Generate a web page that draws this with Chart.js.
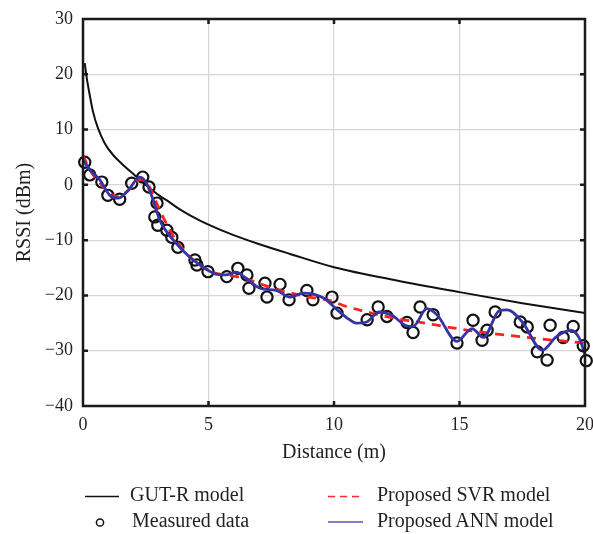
<!DOCTYPE html>
<html><head><meta charset="utf-8">
<script src="https://cdn.jsdelivr.net/npm/chart.js@4.4.1/dist/chart.umd.min.js"></script>
<style>
html,body{margin:0;padding:0;background:#fff;}
#wrap{position:relative;width:593px;height:534px;font-family:"Liberation Serif","Times New Roman",serif;color:#231f20;overflow:hidden;}
canvas{position:absolute;left:0;top:0;}
.lg{position:absolute;font-size:20px;line-height:20px;white-space:nowrap;}
svg.s{position:absolute;left:0;top:0;}
</style></head><body>
<div id="wrap">
<canvas id="c" width="593" height="534"></canvas>
<svg class="s" width="593" height="534">
  <line x1="85" y1="496.5" x2="119" y2="496.5" stroke="#111" stroke-width="1.5"/>
  <circle cx="100" cy="522.5" r="3.6" fill="none" stroke="#111" stroke-width="1.5"/>
  <line x1="328" y1="496.5" x2="363" y2="496.5" stroke="#ff2a2a" stroke-width="1.5" stroke-dasharray="7,5"/>
  <line x1="328" y1="522" x2="363" y2="522" stroke="#5a52b8" stroke-width="1.5"/>
</svg>
<div class="lg" style="left:130px;top:484px">GUT-R model</div>
<div class="lg" style="left:132px;top:510px">Measured data</div>
<div class="lg" style="left:377px;top:484px">Proposed SVR model</div>
<div class="lg" style="left:377px;top:510px">Proposed ANN model</div>
</div>
<script>
// ---- data ----
const xTickValues = [0, 5, 10, 15, 20];
const yTickValues = [-40, -30, -20, -10, 0, 10, 20, 30];

const gutX = [0.07, 0.13, 0.27, 0.4, 0.6, 0.87, 1.2, 1.6, 2.06, 2.53, 3.06, 3.4, 3.78, 4.3, 5.0, 6.0, 7.0, 8.25, 10, 12.5, 15, 17.5, 20];
const gutY = [22.0, 19.9, 16.2, 13.2, 10.2, 7.5, 5.4, 3.6, 1.75, -0.1, -2.0, -3.0, -4.2, -5.6, -7.2, -9.1, -10.7, -12.5, -14.9, -17.3, -19.4, -21.4, -23.2];

const measuredX = [0.07,0.27,0.75,0.99,1.46,1.94,2.38,2.63,2.86,2.95,2.98,3.34,3.54,3.78,4.46,4.54,4.98,5.73,6.17,6.53,6.61,7.25,7.33,7.85,8.21,8.92,9.16,9.92,10.12,11.32,11.76,12.11,12.91,13.15,13.43,13.95,14.90,15.54,15.90,16.10,16.42,17.42,17.70,18.10,18.49,18.61,19.13,19.53,19.93,20.05];
const measuredY = [4.1,1.8,0.5,-1.9,-2.6,0.3,1.4,-0.4,-5.8,-3.3,-7.3,-8.2,-9.5,-11.3,-13.6,-14.5,-15.7,-16.6,-15.1,-16.3,-18.7,-17.8,-20.3,-18.0,-20.8,-19.1,-20.8,-20.3,-23.2,-24.4,-22.1,-23.8,-24.9,-26.7,-22.1,-23.5,-28.6,-24.5,-28.1,-26.3,-23.0,-24.8,-25.7,-30.2,-31.7,-25.4,-27.6,-25.6,-29.1,-31.8];

const svrX = [0, 0.3, 0.7, 1.0, 1.4, 1.8, 2.3, 2.6, 3.0, 3.5, 4.0, 4.5, 5.0, 5.5, 6.0, 6.5, 7.0, 7.5, 8.0, 8.5, 9.0, 9.8, 10.5, 11.5, 12.5, 13.5, 14.5, 15.5, 16.5, 17.5, 18.5, 19.5, 20];
const svrY = [5.3, 2.5, 0.2, -1.3, -2.2, -1.0, 1.0, 0.0, -4.0, -8.5, -11.8, -14.0, -15.5, -16.2, -16.5, -17.0, -17.8, -18.6, -19.3, -19.8, -20.3, -20.9, -22.0, -23.2, -24.2, -24.9, -25.7, -26.4, -27.0, -27.5, -28.0, -28.4, -28.7];

const annX = [0, 0.3, 0.67, 1.07, 1.4, 1.8, 2.26, 2.5, 2.8, 3.06, 3.6, 4.26, 4.8, 5.2, 5.7, 6.1, 6.5, 7.05, 7.7, 8.25, 8.77, 9.6, 10.1, 10.5, 10.9, 11.3, 11.8, 12.3, 12.9, 13.15, 13.7, 14.1, 14.9, 15.5, 15.95, 16.6, 16.9, 17.5, 18.3, 18.85, 19.45, 19.8, 20];
const annY = [4.5, 2.6, 0.9, -1.9, -2.4, -1.0, 1.4, 0.5, -2.8, -6.4, -10.0, -13.1, -14.9, -16.0, -16.3, -15.8, -16.9, -18.7, -19.1, -20.3, -19.6, -20.5, -22.5, -24.0, -25.0, -24.8, -23.0, -23.6, -25.5, -25.6, -22.4, -23.5, -28.3, -26.0, -27.6, -22.7, -22.6, -24.8, -29.9, -27.5, -26.3, -28.0, -30.8];

const pts = (xs, ys) => xs.map((x, i) => ({x, y: ys[i]}));

const frame = {
  id: 'frame',
  afterDraw(chart) {
    const {ctx, chartArea: a, scales: {x, y}} = chart;
    ctx.save();
    ctx.strokeStyle = '#1a1a1a';
    ctx.lineWidth = 2.5;
    ctx.strokeRect(a.left, a.top, a.right - a.left, a.bottom - a.top);
    const L = 5;
    ctx.beginPath();
    x.ticks.forEach(t => {
      const p = x.getPixelForValue(t.value);
      if (p > a.left + 1 && p < a.right - 1) {
        ctx.moveTo(p, a.bottom); ctx.lineTo(p, a.bottom - L);
        ctx.moveTo(p, a.top); ctx.lineTo(p, a.top + L);
      }
    });
    y.ticks.forEach(t => {
      const p = y.getPixelForValue(t.value);
      if (p > a.top + 1 && p < a.bottom - 1) {
        ctx.moveTo(a.left, p); ctx.lineTo(a.left + L, p);
        ctx.moveTo(a.right, p); ctx.lineTo(a.right - L, p);
      }
    });
    ctx.stroke();
    ctx.restore();
  }
};

const fontFam = '"Liberation Serif","Times New Roman",serif';

new Chart(document.getElementById('c'), {
  type: 'scatter',
  data: {
    datasets: [
      {label: 'Proposed ANN model', data: pts(annX, annY), showLine: true, borderColor: '#3434a4', borderWidth: 2.8, pointRadius: 0, cubicInterpolationMode: 'monotone', order: 0},
      {label: 'Proposed SVR model', data: pts(svrX, svrY), showLine: true, borderColor: '#ff2020', borderWidth: 2.8, borderDash: [9, 7], pointRadius: 0, cubicInterpolationMode: 'monotone', order: 1},
      {label: 'Measured data', data: pts(measuredX, measuredY), showLine: false, borderColor: '#111', backgroundColor: 'rgba(0,0,0,0)', borderWidth: 2.2, pointRadius: 5.6, pointStyle: 'circle', clip: false, order: 2},
      {label: 'GUT-R model', data: pts(gutX, gutY), showLine: true, borderColor: '#111', borderWidth: 2, pointRadius: 0, cubicInterpolationMode: 'monotone', order: 3}
    ]
  },
  options: {
    responsive: false,
    animation: false,
    devicePixelRatio: 1,
    layout: {padding: {top: 19, right: 8, bottom: 64, left: 0}},
    plugins: {legend: {display: false}, tooltip: {enabled: false}},
    scales: {
      x: {
        type: 'linear', min: 0, max: 20,
        afterBuildTicks: s => { s.ticks = xTickValues.map(v => ({value: v})); },
        afterFit: s => { s.height = 64; s.paddingLeft = 0; s.paddingRight = 0; },
        grid: {color: '#d6d6d6', lineWidth: 1.2, drawTicks: false},
        border: {display: false},
        ticks: {padding: 8, color: '#231f20', font: {family: fontFam, size: 18}, maxRotation: 0},
        title: {display: true, text: 'Distance (m)', color: '#231f20', font: {family: fontFam, size: 20}, padding: {top: 0, bottom: 5}}
      },
      y: {
        type: 'linear', min: -40, max: 30,
        afterBuildTicks: s => { s.ticks = yTickValues.map(v => ({value: v})); },
        afterFit: s => { s.width = 83; s.paddingTop = 0; s.paddingBottom = 0; },
        grid: {color: '#d6d6d6', lineWidth: 1.2, drawTicks: false},
        border: {display: false},
        ticks: {padding: 10, color: '#231f20', font: {family: fontFam, size: 18},
          callback: v => (v < 0 ? '\u2212' + Math.abs(v) : String(v))},
        title: {display: true, text: 'RSSI (dBm)', color: '#231f20', font: {family: fontFam, size: 20}, padding: {top: 13, bottom: 0}}
      }
    }
  },
  plugins: [frame]
});
</script>
</body></html>
